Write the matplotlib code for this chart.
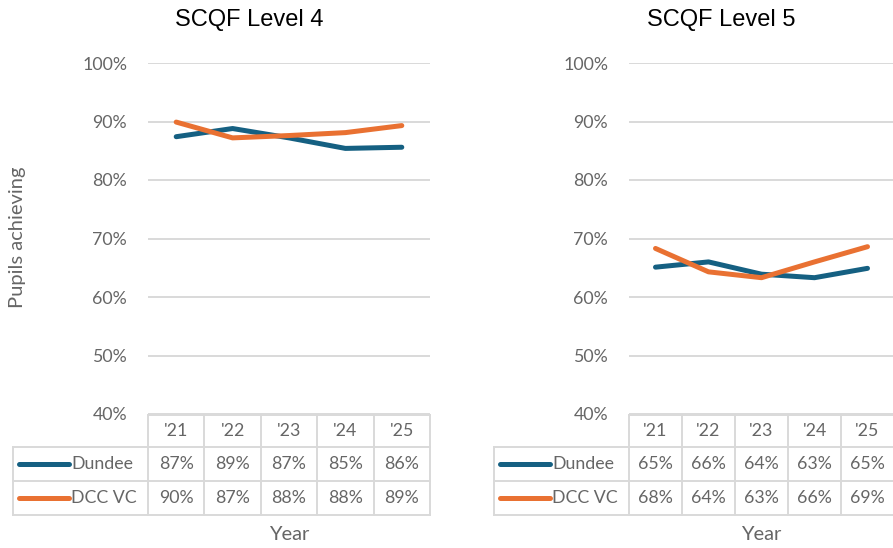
import matplotlib
matplotlib.use("Agg")
import matplotlib.pyplot as plt
from matplotlib.lines import Line2D
from matplotlib.transforms import blended_transform_factory

years = ["'21", "'22", "'23", "'24", "'25"]

# line values (unrounded), table shows the rounded figures
l4_dundee = [87.4, 88.8, 87.2, 85.4, 85.6]
l4_dcc = [89.9, 87.2, 87.6, 88.1, 89.3]
l5_dundee = [65.1, 66.0, 63.9, 63.3, 64.9]
l5_dcc = [68.3, 64.3, 63.3, 66.0, 68.6]

l4_dundee_lbl = ["87%", "89%", "87%", "85%", "86%"]
l4_dcc_lbl = ["90%", "87%", "88%", "88%", "89%"]
l5_dundee_lbl = ["65%", "66%", "64%", "63%", "65%"]
l5_dcc_lbl = ["68%", "64%", "63%", "66%", "69%"]

series_names = ["Dundee", "DCC VC"]
colors = ["#156082", "#E97132"]

W, H = 893, 548
GREY = "#666666"
GRID = "#D9D9D9"
TXT_FONT = ["Lato", "DejaVu Sans"]

fig = plt.figure(figsize=(W / 100, H / 100), dpi=100)


def fx(px):
    return px / W


def fy(px):
    return 1 - px / H


def panel(x0, x1, leg_x0, title, dundee, dcc, dundee_lbl, dcc_lbl, ylabel=None):
    top, bot = 63, 414
    ax = fig.add_axes([fx(x0), fy(bot), fx(x1) - fx(x0), (bot - top) / H])
    xs = [i + 0.5 for i in range(len(years))]
    ax.plot(xs, dundee, color=colors[0], lw=3.6, solid_capstyle="round", zorder=3)
    ax.plot(xs, dcc, color=colors[1], lw=3.6, solid_capstyle="round", zorder=3)
    ax.set_xlim(0, len(years))
    ax.set_ylim(40, 100)
    ax.set_yticks(range(40, 101, 10))
    ax.set_yticklabels([f"{v}%" for v in range(40, 101, 10)], color=GREY,
                       fontsize=12.8, family=TXT_FONT)
    ax.tick_params(axis="y", length=0, pad=15)
    ax.set_xticks([])
    ax.grid(axis="y", color=GRID, lw=1.4)
    ax.set_axisbelow(True)
    for s in ax.spines.values():
        s.set_visible(False)
    fig.text(fx((x0 + x1) / 2 - 40), fy(20), title, ha="center", va="center",
             fontsize=17, family=["Liberation Sans", "DejaVu Sans"])

    # data table under the axis
    tr = blended_transform_factory(ax.transData, fig.transFigure)
    rows = [415, 447, 481, 515]
    kw = dict(color=GRID, lw=1.4, clip_on=False)
    # header row: only over the year columns
    fig.add_artist(Line2D([0, len(years)], [fy(rows[0])] * 2, transform=tr, **kw))
    for r in rows[1:]:
        fig.add_artist(Line2D([fx(leg_x0), fx(x1)], [fy(r)] * 2,
                              transform=fig.transFigure, **kw))
    for i in range(len(years) + 1):
        fig.add_artist(Line2D([i, i], [fy(rows[0]), fy(rows[-1])], transform=tr, **kw))
    fig.add_artist(Line2D([fx(leg_x0)] * 2, [fy(rows[1]), fy(rows[-1])],
                          transform=fig.transFigure, **kw))

    tkw = dict(ha="center", va="center", color=GREY, fontsize=12.8,
               family=TXT_FONT, transform=tr)
    cells = [years, dundee_lbl, dcc_lbl]
    for r, row in enumerate(cells):
        yc = fy((rows[r] + rows[r + 1]) / 2)
        for i, t in enumerate(row):
            fig.text(i + 0.5, yc, t, **tkw)
    for k, name in enumerate(series_names):
        yc = fy((rows[k + 1] + rows[k + 2]) / 2)
        fig.add_artist(Line2D([fx(leg_x0 + 6), fx(leg_x0 + 56)], [yc, yc],
                              color=colors[k], lw=3.6, solid_capstyle="round",
                              transform=fig.transFigure))
        fig.text(fx(leg_x0 + 58), yc, name, ha="left", va="center", color=GREY,
                 fontsize=12.8, family=TXT_FONT)

    fig.text(fx((x0 + x1) / 2), fy(535), "Year", ha="center", va="center",
             color=GREY, fontsize=14.5, family=TXT_FONT)
    if ylabel:
        fig.text(fx(18), fy(237), ylabel, rotation=90, ha="center", va="center",
                 color=GREY, fontsize=14.5, family=TXT_FONT)
    return ax


panel(148, 430, 13, "SCQF Level 4", l4_dundee, l4_dcc, l4_dundee_lbl, l4_dcc_lbl,
      ylabel="Pupils achieving")
panel(629, 894, 494, "SCQF Level 5", l5_dundee, l5_dcc, l5_dundee_lbl, l5_dcc_lbl)

fig.savefig("out.png", dpi=100)
